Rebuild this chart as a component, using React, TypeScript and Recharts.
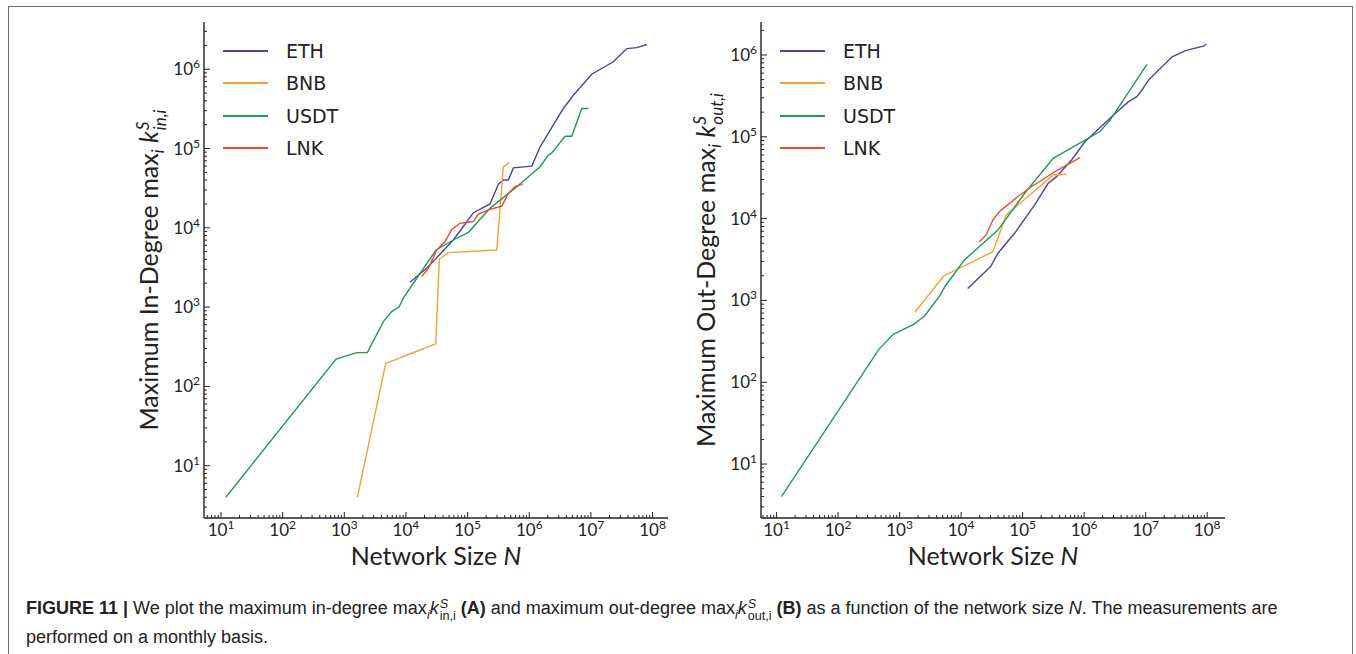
import { Line, LineChart, XAxis, YAxis } from "recharts"

type Pt = [number, number]

const seriesNames = ["ETH", "BNB", "USDT", "LNK"]
const seriesColors = ["#47479f", "#f7a12b", "#1a9e55", "#ee4a2c"]

// panel A: network size N -> maximum in-degree
const ethIn: Pt[] = [
  [11600, 2060], [21700, 3090], [58700, 7020], [124000, 15500], [231000, 20000],
  [316000, 35500], [380000, 40000], [458000, 40000], [552000, 57000], [1.1e6, 60000],
  [1.5e6, 105000], [3.57e6, 320000], [5.19e6, 470000], [1.03e7, 865000], [2.31e7, 1.24e6],
  [3.16e7, 1.58e6], [3.82e7, 1.82e6], [5.55e7, 1.87e6], [8.05e7, 2.05e6],
]
const bnbIn: Pt[] = [
  [1630, 4], [4700, 195], [12400, 262], [30400, 344], [34800, 4010], [48600, 4860],
  [297000, 5250], [380000, 59000], [475000, 66400],
]
const usdtIn: Pt[] = [
  [12, 4], [735, 221], [1590, 267], [2360, 267], [4300, 656], [5870, 877], [7720, 1000],
  [9060, 1295], [13200, 2000], [30800, 5250], [58700, 7020], [103000, 8770], [231000, 17600],
  [627000, 33000], [1.5e6, 59000], [2.04e6, 82600], [2.32e6, 88000], [3.81e6, 143000],
  [4.9e6, 143000], [7.1e6, 320000], [9.1e6, 320000],
]
const lnkIn: Pt[] = [
  [18000, 2420], [23100, 3090], [31600, 5250], [43000, 6680], [55300, 9550], [75400, 11400],
  [124000, 12000], [149000, 14900], [231000, 17100], [358000, 18800], [458000, 27200],
  [589000, 33000], [785000, 35500],
]

// panel B: network size N -> maximum out-degree
const ethOut: Pt[] = [
  [12800, 1400], [30000, 2580], [39600, 3770], [74000, 6610], [157000, 14700],
  [260000, 27000], [356000, 32600], [625000, 52000], [1.03e6, 87000], [3.0e6, 185000],
  [5.27e6, 269000], [7.2e6, 309000], [8.7e6, 373000], [1.12e7, 495000], [2.69e7, 950000],
  [4.44e7, 1.13e6], [8.9e7, 1.29e6], [9.7e7, 1.36e6],
]
const bnbOut: Pt[] = [
  [1770, 716], [5200, 1990], [32800, 3940], [54200, 11100], [122000, 18600],
  [314000, 34100], [518000, 34800],
]
const usdtOut: Pt[] = [
  [12, 4], [460, 252], [790, 385], [1720, 513], [2570, 650], [4570, 1160], [5460, 1480],
  [11300, 3120], [39600, 7240], [108000, 20400], [314000, 54600], [1.81e6, 116000],
  [2.64e6, 160000], [1.05e7, 770000],
]
const lnkOut: Pt[] = [
  [19800, 5230], [25500, 6310], [32800, 9600], [42100, 12200], [84100, 18600],
  [139000, 24500], [333000, 37400], [379000, 39300], [853000, 55600],
]

const minorSteps = [2, 3, 4, 5, 6, 7, 8, 9]
const decades = [1, 10, 1e2, 1e3, 1e4, 1e5, 1e6, 1e7, 1e8]

const CHART_W = 580
const CHART_H = 600
const PLOT_TOP = 22
const PLOT_BOTTOM = 518
const X_H = 60
const Y_W = 104
const PAD_R = 12
const PLOT_RIGHT = CHART_W - PAD_R
const INK = "#222"
const TICK_FONT = "Lato, 'DejaVu Sans', sans-serif"

const allTicks = (domain: [number, number]) => {
  const out: number[] = []
  decades.forEach((d) => {
    ;[1, ...minorSteps].forEach((m) => {
      const v = d * m
      if (v >= domain[0] && v <= domain[1]) out.push(v)
    })
  })
  return out
}

const isMajor = (v: number) => Math.abs(Math.log10(v) - Math.round(Math.log10(v))) < 1e-6

function XTick(props: any) {
  const { x, payload, side } = props
  const v = payload.value
  const major = isMajor(v)
  const len = major ? 6 : 3
  if (side === "top") {
    return <line x1={x} x2={x} y1={PLOT_TOP} y2={PLOT_TOP + len} stroke={INK} strokeWidth={1} />
  }
  return (
    <g>
      <line x1={x} x2={x} y1={PLOT_BOTTOM} y2={PLOT_BOTTOM - len} stroke={INK} strokeWidth={1} />
      {major && (
        <text x={x} y={PLOT_BOTTOM + 18} textAnchor="middle" fontSize={17} fill={INK} fontFamily={TICK_FONT}>
          10<tspan dy={-7} fontSize={12}>{Math.round(Math.log10(v))}</tspan>
        </text>
      )}
    </g>
  )
}

function YTick(props: any) {
  const { y, payload, side } = props
  const v = payload.value
  const major = isMajor(v)
  const len = major ? 6 : 3
  if (side === "right") {
    return <line x1={PLOT_RIGHT} x2={PLOT_RIGHT - len} y1={y} y2={y} stroke={INK} strokeWidth={1} />
  }
  return (
    <g>
      <line x1={Y_W} x2={Y_W + len} y1={y} y2={y} stroke={INK} strokeWidth={1} />
      {major && (
        <text x={Y_W - 4} y={y + 6} textAnchor="end" fontSize={17} fill={INK} fontFamily={TICK_FONT}>
          10<tspan dy={-7} fontSize={12}>{Math.round(Math.log10(v))}</tspan>
        </text>
      )}
    </g>
  )
}

function SubSup({ sup, sub }: { sup: string; sub: string }) {
  return (
    <span
      style={{
        display: "inline-flex",
        flexDirection: "column",
        fontSize: "0.68em",
        lineHeight: 1.0,
        verticalAlign: "0.55em",
        fontStyle: "italic",
        marginLeft: 1,
      }}
    >
      <span>{sup}</span>
      <span>{sub}</span>
    </span>
  )
}

function YTitle({ word, sub }: { word: string; sub: string }) {
  return (
    <div
      style={{
        position: "absolute",
        left: 50,
        top: (PLOT_TOP + PLOT_BOTTOM) / 2,
        transform: "translate(-50%, -50%) rotate(-90deg)",
        whiteSpace: "nowrap",
        fontFamily: TICK_FONT,
        fontSize: 25,
        color: INK,
      }}
    >
      Maximum {word} max
      <sub style={{ fontStyle: "italic", fontSize: "0.68em" }}>i</sub>{" "}
      <span style={{ fontStyle: "italic" }}>k</span>
      <SubSup sup="S" sub={sub} />
    </div>
  )
}

const axisLine = { stroke: INK, strokeWidth: 1.4 }

function Panel({
  left,
  xDomain,
  yDomain,
  lines,
  word,
  sub,
}: {
  left: number
  xDomain: [number, number]
  yDomain: [number, number]
  lines: Pt[][]
  word: string
  sub: string
}) {
  const xTicks = allTicks(xDomain)
  const yTicks = allTicks(yDomain)
  return (
    <div style={{ position: "absolute", left, top: 0, width: CHART_W, height: CHART_H }}>
      <LineChart
        width={CHART_W}
        height={CHART_H}
        margin={{ top: PLOT_TOP, right: PAD_R, bottom: CHART_H - PLOT_BOTTOM - X_H, left: 0 }}
      >
        <XAxis
          xAxisId="b"
          type="number"
          dataKey="x"
          scale="log"
          domain={xDomain}
          allowDataOverflow
          ticks={xTicks}
          interval={0}
          height={X_H}
          tickLine={false}
          axisLine={axisLine}
          tick={(p: any) => <XTick {...p} side="bottom" />}
        />
        <XAxis
          xAxisId="t"
          orientation="top"
          type="number"
          dataKey="x"
          scale="log"
          domain={xDomain}
          allowDataOverflow
          ticks={xTicks}
          interval={0}
          height={0}
          tickLine={false}
          axisLine={axisLine}
          tick={(p: any) => <XTick {...p} side="top" />}
        />
        <YAxis
          yAxisId="l"
          type="number"
          dataKey="y"
          scale="log"
          domain={yDomain}
          allowDataOverflow
          ticks={yTicks}
          interval={0}
          width={Y_W}
          tickLine={false}
          axisLine={axisLine}
          tick={(p: any) => <YTick {...p} side="left" />}
        />
        <YAxis
          yAxisId="r"
          orientation="right"
          type="number"
          dataKey="y"
          scale="log"
          domain={yDomain}
          allowDataOverflow
          ticks={yTicks}
          interval={0}
          width={0}
          tickLine={false}
          axisLine={axisLine}
          tick={(p: any) => <YTick {...p} side="right" />}
        />
        {lines.map((pts, i) => (
          <Line
            key={seriesNames[i]}
            xAxisId="b"
            yAxisId="l"
            name={seriesNames[i]}
            data={pts.map(([x, y]) => ({ x, y }))}
            dataKey="y"
            type="linear"
            stroke={seriesColors[i]}
            strokeWidth={1.4}
            dot={false}
            activeDot={false}
            isAnimationActive={false}
          />
        ))}
      </LineChart>
      {seriesNames.map((n, i) => (
        <div key={n} style={{ position: "absolute", left: Y_W + 19, top: 51 + i * 32.3 - 12, height: 24 }}>
          <div
            style={{
              position: "absolute",
              left: 0,
              top: 11,
              width: 45,
              height: 2,
              background: seriesColors[i],
            }}
          />
          <div
            style={{
              position: "absolute",
              left: 63,
              top: 0,
              lineHeight: "24px",
              fontFamily: "'DejaVu Sans', sans-serif",
              fontSize: 19,
              color: INK,
              whiteSpace: "nowrap",
            }}
          >
            {n}
          </div>
        </div>
      ))}
      <YTitle word={word} sub={sub} />
      <div
        style={{
          position: "absolute",
          left: Y_W,
          width: PLOT_RIGHT - Y_W,
          top: 543,
          textAlign: "center",
          fontFamily: TICK_FONT,
          fontSize: 25,
          lineHeight: 1,
          color: INK,
        }}
      >
        Network Size <i>N</i>
      </div>
    </div>
  )
}

function CapSubSup({ sup, sub }: { sup: string; sub: string }) {
  return (
    <span
      style={{
        display: "inline-flex",
        flexDirection: "column",
        fontSize: "0.7em",
        lineHeight: 1.0,
        verticalAlign: "0.5em",
        marginLeft: 1,
      }}
    >
      <span style={{ fontStyle: "italic" }}>{sup}</span>
      <span>{sub}</span>
    </span>
  )
}

export default function App() {
  const capStyle = {
    position: "absolute" as const,
    left: 26,
    whiteSpace: "nowrap" as const,
    fontFamily: "'Liberation Sans', Arial, sans-serif",
    fontSize: 18,
    lineHeight: "22px",
    color: "#222",
  }
  return (
    <div style={{ position: "absolute", left: 0, top: 0, width: 1356, height: 654, overflow: "hidden", background: "#fff" }}>
      <div
        style={{
          position: "absolute",
          left: 8,
          top: 6,
          width: 1345,
          height: 700,
          border: "1px solid #707070",
          boxSizing: "border-box",
        }}
      />
      <Panel
        left={100}
        xDomain={[5.3, 1.78e8]}
        yDomain={[2.19, 3.94e6]}
        lines={[ethIn, bnbIn, usdtIn, lnkIn]}
        word="In-Degree"
        sub="in,i"
      />
      <Panel
        left={657}
        xDomain={[5.58, 1.95e8]}
        yDomain={[2.19, 2.53e6]}
        lines={[ethOut, bnbOut, usdtOut, lnkOut]}
        word="Out-Degree"
        sub="out,i"
      />
      <div style={{ ...capStyle, top: 597 }}>
        <b>FIGURE 11 |</b> We plot the maximum in-degree max<sub style={{ fontSize: "0.7em", fontStyle: "italic" }}>i</sub>
        <i>k</i>
        <CapSubSup sup="S" sub="in,i" /> <b>(A)</b> and maximum out-degree max
        <sub style={{ fontSize: "0.7em", fontStyle: "italic" }}>i</sub>
        <i>k</i>
        <CapSubSup sup="S" sub="out,i" /> <b>(B)</b> as a function of the network size <i>N</i>. The measurements are
      </div>
      <div style={{ ...capStyle, top: 626 }}>performed on a monthly basis.</div>
    </div>
  )
}
